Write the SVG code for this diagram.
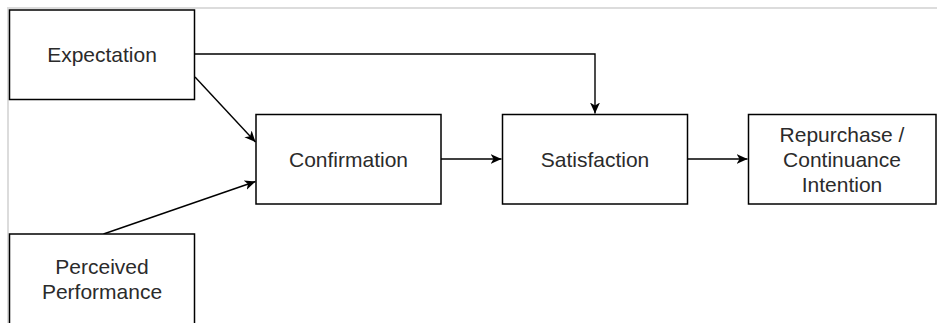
<svg xmlns="http://www.w3.org/2000/svg" width="937" height="323" viewBox="0 0 937 323">
  <style>
    .box { fill: #ffffff; stroke: #000000; stroke-width: 1.5; }
    .lbl { font-family: "Liberation Sans", Arial, Helvetica, sans-serif; font-size: 21px; fill: #2b2b2b; text-anchor: middle; }
    .edge { fill: none; stroke: #000000; stroke-width: 1.4; marker-end: url(#arrow); }
  </style>
  <defs>
    <marker id="arrow" markerUnits="userSpaceOnUse" markerWidth="12" markerHeight="10" refX="11" refY="5" orient="auto">
      <path d="M0,0 L11,5 L0,10 L3,5 Z" fill="#000000"/>
    </marker>
  </defs>

  <rect x="0" y="0" width="937" height="323" fill="#ffffff"/>
  <!-- page frame -->
  <path d="M8,323 L8,8 L937,8" fill="none" stroke="#dcdcdc" stroke-width="2"/>

  <g id="connectors">
    <path class="edge" d="M195,54 L595,54 L595,113.5"/>
    <path class="edge" d="M195,77 L255.5,142"/>
    <path class="edge" d="M103.5,234 L255.5,181.5"/>
    <path class="edge" d="M441,159 L501.5,159"/>
    <path class="edge" d="M688,159 L747.5,159"/>
  </g>

  <g id="expectation">
    <rect class="box" x="9.5" y="10" width="185" height="89.5"/>
    <text class="lbl" x="102" y="61.5">Expectation</text>
  </g>

  <g id="perceived-performance">
    <rect class="box" x="9.5" y="234" width="185" height="95"/>
    <text class="lbl" x="102" y="274">Perceived</text>
    <text class="lbl" x="102" y="299">Performance</text>
  </g>

  <g id="confirmation">
    <rect class="box" x="256" y="114.5" width="185" height="89.5"/>
    <text class="lbl" x="348.5" y="166.5">Confirmation</text>
  </g>

  <g id="satisfaction">
    <rect class="box" x="502.5" y="114.5" width="185" height="89.5"/>
    <text class="lbl" x="595" y="166.5">Satisfaction</text>
  </g>

  <g id="repurchase-intention">
    <rect class="box" x="748.5" y="114.5" width="187.5" height="89.5"/>
    <text class="lbl" x="842" y="141.5">Repurchase /</text>
    <text class="lbl" x="842" y="166.5">Continuance</text>
    <text class="lbl" x="842" y="191.5">Intention</text>
  </g>
</svg>
